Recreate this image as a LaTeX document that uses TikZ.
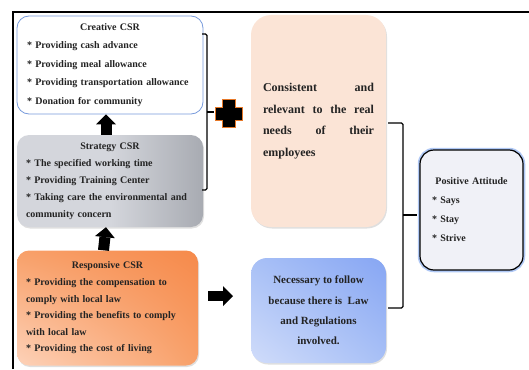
\documentclass[tikz,border=0pt]{standalone}
\usepackage{fontspec}
\setmainfont{Liberation Serif}
\usetikzlibrary{arrows.meta,shadows,shadings,calc}
\definecolor{creativeline}{RGB}{120,155,220}
\definecolor{stratlight}{RGB}{212,214,220}
\definecolor{stratdark}{RGB}{168,171,178}
\definecolor{resplight}{RGB}{253,210,185}
\definecolor{respmid}{RGB}{248,160,105}
\definecolor{respdark}{RGB}{246,138,75}
\definecolor{needsfill}{RGB}{251,228,214}
\definecolor{lawlight}{RGB}{208,220,250}
\definecolor{lawmid}{RGB}{168,192,246}
\definecolor{lawdark}{RGB}{135,166,243}
\definecolor{attfill}{RGB}{240,241,247}
\definecolor{attglow}{RGB}{175,200,245}
\definecolor{plusline}{RGB}{230,120,40}
\definecolor{txt}{RGB}{35,35,35}
\newcommand{\itm}{{*}~}
\newcommand{\fullline}[1]{\makebox[\linewidth][s]{#1}}
\tikzset{
  csrbox/.style={rounded corners=12pt, inner sep=0pt, align=left, text=txt,
    font=\bfseries\fontsize{10}{#1}\selectfont},
  softshadow/.style={drop shadow={opacity=0.25, shadow xshift=1pt, shadow yshift=-1.5pt}},
  blockarrow/.style={line width=#1, -{Triangle[width=20pt,length=10pt,line width=0pt]}},
  bracket/.style={line width=1.2pt, rounded corners=1.5pt},
}
\begin{document}
\begin{tikzpicture}[x=1pt,y=-1pt]
        \useasboundingbox (0,0) rectangle (529,369);
        \draw[line width=1.5pt] (13,369) -- (13,12) -- (529,12);

        % left column
        \node[csrbox=18.5, draw=creativeline, fill=white, line width=0.8pt,
          minimum width=186pt, minimum height=98pt, text width=166pt] (creative) at (110,65)
          {\makebox[\linewidth]{Creative CSR}\\ \itm Providing cash advance\\ \itm Providing meal allowance\\
           \itm Providing transportation allowance\\ \itm Donation for community};
        \node[csrbox=17, softshadow, left color=stratlight, right color=stratdark, middle color=stratlight,
          minimum width=186pt, minimum height=92pt, text width=168pt] (strategy) at (110,181)
          {\makebox[\linewidth]{Strategy CSR}\\ \itm The specified working time\\ \itm Providing Training Center\\
           \itm Taking care the environmental and\\ community concern};
        \node[csrbox=16.6, softshadow, lower left=resplight, upper left=respmid, lower right=respmid,
          upper right=respdark, minimum width=181pt, minimum height=115pt, text width=163pt] (responsive) at (107.5,308)
          {\makebox[\linewidth]{Responsive CSR}\\ \itm Providing the compensation to\\ comply with local law\\
           \itm Providing the benefits to comply\\ with local law\\ \itm Providing the cost of living};

        \draw[blockarrow=11pt] ([xshift=-4pt]strategy.north) -- ([xshift=-4pt]creative.south);
        \draw[blockarrow=11pt] ([xshift=-4pt]responsive.north) -- ([xshift=-4pt]strategy.north |- strategy.south);

        % middle column
        \node[csrbox=21.7, softshadow, rounded corners=20pt, fill=needsfill,
          font=\bfseries\fontsize{12}{21.7}\selectfont,
          minimum width=135pt, minimum height=212pt, text width=111pt] (needs) at (318.5,121)
          {\fullline{Consistent\hfill and}\\ \fullline{relevant\hfill to\hfill the\hfill real}\\
           \fullline{needs\hfill of\hfill their}\\ employees};
        \node[csrbox=20.3, softshadow, rounded corners=16pt, align=center,
          font=\bfseries\fontsize{11}{20.3}\selectfont,
          lower left=lawlight, upper left=lawmid, lower right=lawmid, upper right=lawdark,
          minimum width=135pt, minimum height=105pt] (law) at (318.5,310.5)
          {Necessary to follow\\ because there is~ Law\\ and Regulations\\ involved.};

        \coordinate (arrowstart) at (208,296);
        \coordinate (arrowend) at (233,296);
        \draw[blockarrow=10pt] (arrowstart) -- (arrowend);

        % plus sign
        \filldraw[fill=black, draw=plusline, line width=0.8pt, shift={(228.5,113.5)}]
          (-6.5,-14) -- (6.5,-14) -- (6.5,-6.5) -- (13.5,-6.5) -- (13.5,6.5) -- (6.5,6.5) -- (6.5,14)
          -- (-6.5,14) -- (-6.5,6.5) -- (-13.5,6.5) -- (-13.5,-6.5) -- (-6.5,-6.5) -- cycle;

        % right column
        \node[csrbox=19, rounded corners=14pt, fill=attfill, draw=black, line width=1.2pt,
          preaction={draw=attglow, line width=4.5pt},
          minimum width=103pt, minimum height=120pt, text width=79pt] (attitude) at (471.5,210)
          {\makebox[\linewidth]{Positive Attitude}\\ \itm Says\\ \itm Stay\\ \itm Strive};

        % brackets
        \coordinate (bA1) at (202,34);
        \coordinate (bA2) at (202,190);
        \coordinate (bAtip) at (214,112);
        \draw[bracket] (bA1) -- (207,34) -- (207,190) -- (bA2);
        \draw[bracket] (207,112) -- (bAtip);
        \coordinate (bB1) at (388,123);
        \coordinate (bB2) at (388,308);
        \coordinate (bBtip) at (417,215);
        \draw[bracket] (bB1) -- (403,123) -- (403,308) -- (bB2);
        \draw[bracket] (403,215) -- (bBtip);
\end{tikzpicture}
\end{document}
